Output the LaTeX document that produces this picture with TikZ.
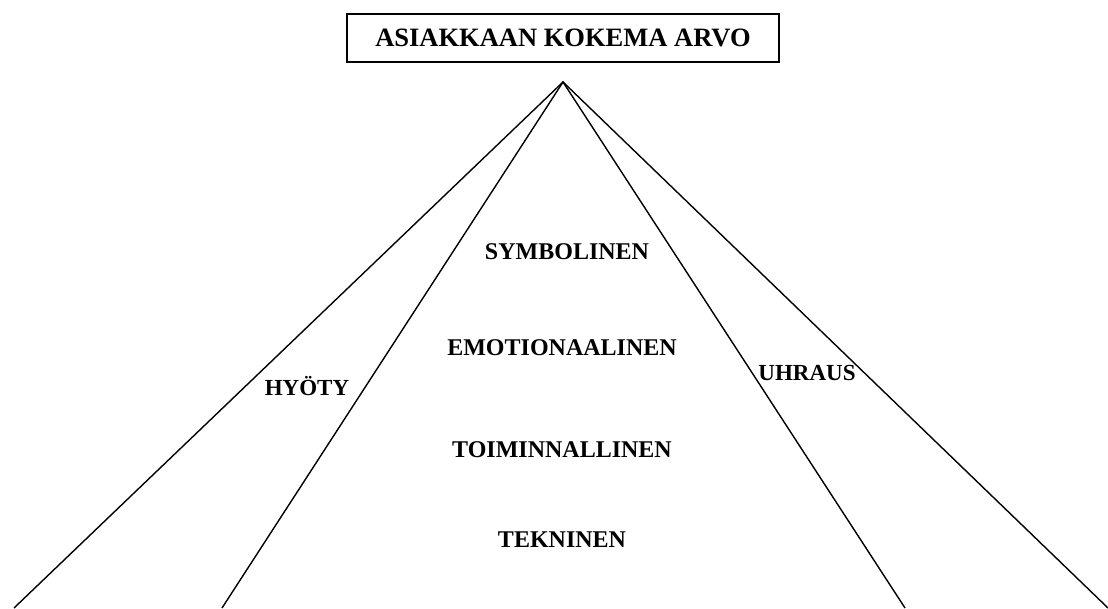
\documentclass[tikz,border=0pt]{standalone}
\usepackage{fontspec}
\setmainfont{Liberation Serif}
\begin{document}
\begin{tikzpicture}[x=1pt,y=-1pt,
  titlebox/.style={draw,line width=1.6pt,minimum width=432pt,minimum height=48pt,
    inner sep=0pt,font=\fontsize{26.5}{30}\selectfont\bfseries},
  lbl/.style={inner sep=0pt,font=\fontsize{24}{28}\selectfont\bfseries},
  sidelbl/.style={inner sep=0pt,font=\fontsize{23}{27}\selectfont\bfseries},
  ray/.style={line width=1.4pt,line join=miter}]
\useasboundingbox (0,0) rectangle (1108,608);

% title box
\node[titlebox] (title) at (563,38) {ASIAKKAAN KOKEMA ARVO};

% apex and the feet of the four rays
\coordinate (apex) at (563,82);
\coordinate (f1) at (14,608);
\coordinate (f2) at (222,608);
\coordinate (f3) at (905,608);
\coordinate (f4) at (1108,608);

\draw[ray] (f1) -- (apex) -- (f4);
\draw[ray] (f2) -- (apex) -- (f3);

% value levels
\node[lbl] (sym) at (567,252) {SYMBOLINEN};
\node[lbl] (emo) at (562,348) {EMOTIONAALINEN};
\node[lbl] (toi) at (562,450) {TOIMINNALLINEN};
\node[lbl] (tek) at (562,540) {TEKNINEN};

% benefit and sacrifice
\node[sidelbl] (hyo) at (307,386) {HYÖTY};
\node[sidelbl] (uhr) at (807,373) {UHRAUS};
\end{tikzpicture}
\end{document}
